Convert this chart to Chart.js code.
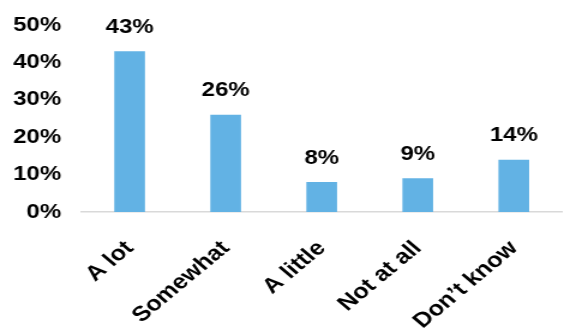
<!DOCTYPE html>
<html>
<head>
<meta charset="utf-8">
<script src="https://cdn.jsdelivr.net/npm/chart.js@4.4.1/dist/chart.umd.min.js"></script>
<style>
  html, body { margin: 0; padding: 0; background: #fff; }
  #grafico { display: block; }
</style>
</head>
<body>
<!-- drawn at 470 wide and widened to 564 -->
<canvas id="grafico" width="470" height="333" style="width:564px;height:333px"></canvas>
<script>
// respuestas y porcentajes
const categorias = ['A lot', 'Somewhat', 'A little', 'Not at all', 'Don\u2019t know'];
const porcentajes = [43, 26, 8, 9, 14];
const ticksY = [0, 10, 20, 30, 40, 50];

const fuente = { family: "'Liberation Sans', Arial, sans-serif", size: 20, weight: 'bold' };
const fuenteX = { family: fuente.family, size: 21, weight: 'bold' };

// etiqueta con el valor encima de cada barra
const etiquetas = {
    id: 'etiquetas',
    afterDatasetsDraw(chart) {
        const ctx = chart.ctx;
        const meta = chart.getDatasetMeta(0);
        ctx.save();
        ctx.font = 'bold 20px ' + fuente.family;
        ctx.fillStyle = '#000';
        ctx.textAlign = 'center';
        ctx.textBaseline = 'middle';
        meta.data.forEach((bar, i) => {
            ctx.fillText(porcentajes[i] + '%', bar.x, bar.y - 24);
        });
        ctx.restore();
    }
};

const getGrafic = document.getElementById('grafico').getContext('2d');
const myChart = new Chart(getGrafic, {
    type: 'bar',
    data: {
        labels: categorias,
        datasets: [{
            data: porcentajes,
            backgroundColor: '#62b2e4',
            borderWidth: 0,
            barPercentage: 0.32,
            categoryPercentage: 1
        }]
    },
    options: {
        responsive: false,
        animation: false,
        devicePixelRatio: 1,
        layout: { padding: { top: 25, left: 0, right: 0, bottom: 0 } },
        plugins: {
            legend: { display: false },
            tooltip: { enabled: false }
        },
        scales: {
            x: {
                grid: { display: false, drawTicks: false },
                border: { display: true, color: '#d9d9d9', width: 1.5 },
                ticks: {
                    color: '#000',
                    font: fuenteX,
                    minRotation: 45,
                    maxRotation: 45,
                    padding: 24,
                    autoSkip: false
                },
                afterFit(scale) { scale.height = 121; }
            },
            y: {
                min: 0,
                max: 50,
                grid: { display: false, drawTicks: false },
                border: { display: false },
                afterBuildTicks(scale) {
                    scale.ticks = ticksY.map(v => ({ value: v }));
                },
                ticks: {
                    color: '#000',
                    font: fuente,
                    padding: 17,
                    callback: (v) => v + '%'
                },
                afterFit(scale) {
                    scale.width = 68;
                    scale.paddingTop = 0;
                    scale.paddingBottom = 0;
                }
            }
        }
    },
    plugins: [etiquetas]
});
</script>
</body>
</html>
